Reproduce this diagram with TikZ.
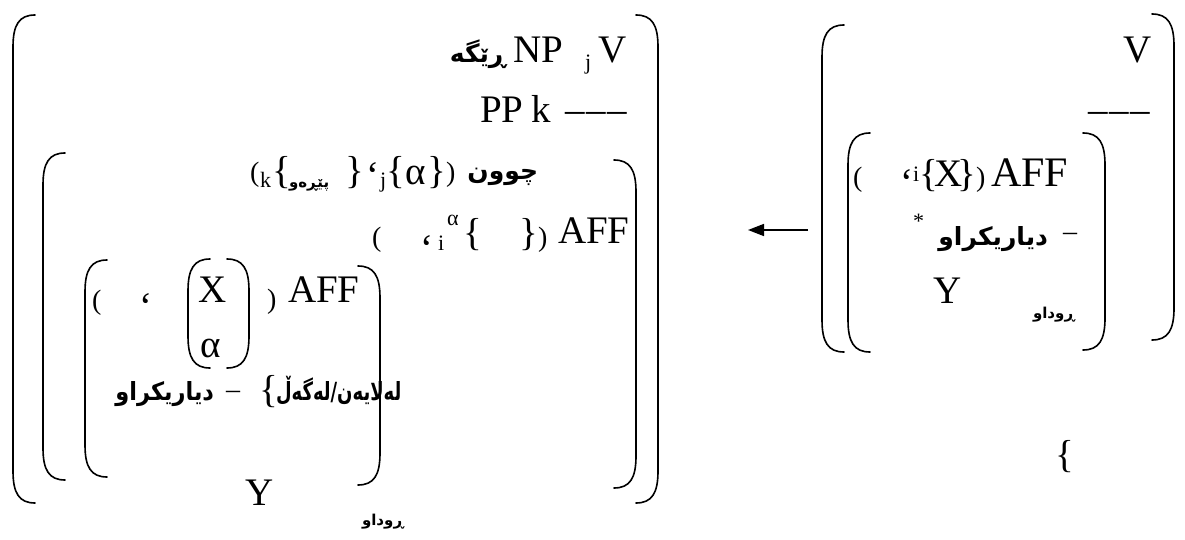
\documentclass[tikz,border=0pt]{standalone}
\usepackage{fontspec}
\setmainfont{Liberation Serif}
\newfontfamily\arabf[Script=Arabic]{DejaVu Sans}
\TeXXeTstate=1
\usetikzlibrary{arrows.meta}
\newcommand\Fbig{\fontsize{39}{40}\selectfont}
\newcommand\Fmid{\fontsize{28}{30}\selectfont}
\newcommand\Fsm{\fontsize{22}{24}\selectfont}
\newcommand\Far{\arabf\bfseries\fontsize{25}{28}\selectfont}
\newcommand\Farsm{\arabf\bfseries\fontsize{15}{16}\selectfont}
\newcommand\AR[1]{\beginR #1\endR}
\newcommand\Dashes{–\kern2pt–\kern2pt–}
\tikzset{
  t/.style={anchor=base west, inner sep=0pt, outer sep=0pt},
  te/.style={anchor=base east, inner sep=0pt, outer sep=0pt},
  brk/.style={line width=1.6pt, line cap=round},
  arr/.style={line width=1.6pt, -{Triangle[length=16pt,width=12pt]}}
}
% left bracket: x, top, bottom
\newcommand\mylb[3]{\draw[brk] (#1+22,#2) .. controls (#1+6,#2) and (#1,#2+10) .. (#1,#2+32) -- (#1,#3-32) .. controls (#1,#3-10) and (#1+6,#3) .. (#1+22,#3);}
% right bracket: x, top, bottom
\newcommand\myrb[3]{\draw[brk] (#1-22,#2) .. controls (#1-6,#2) and (#1,#2+10) .. (#1,#2+32) -- (#1,#3-32) .. controls (#1,#3-10) and (#1-6,#3) .. (#1-22,#3);}
\begin{document}
\begin{tikzpicture}[x=1pt,y=-1pt]
\fill[white] (0,0) rectangle (1185,540);
\useasboundingbox (0,0) rectangle (1185,540);
% ===== left structure brackets =====
\mylb{13}{15}{503}  \myrb{658}{15}{503}
\mylb{43}{153}{480} \myrb{636}{160}{488}
\mylb{85}{260}{477} \myrb{380}{266}{485}
\mylb{188}{259}{368} \myrb{249}{259}{368}
% ===== right structure brackets =====
\mylb{822}{25}{352} \myrb{1174}{14}{340}
\mylb{848}{133}{352} \myrb{1105}{133}{350}
% ===== left texts =====
\node[te] (w1) at (506,63) {\Far\AR{ڕێگە}};
\node[t] (np) at (513,63) {\Fbig NP};
\node[t] (j1) at (585,70) {\Fsm j};
\node[t] (v1) at (598,63) {\Fbig V};
\node[t] (pp) at (480,123) {\Fbig PP};
\node[t] (k1) at (531,123) {\Fbig k};
\node[t] (d1) at (565,123) {\Fbig\Dashes};
% row choon
\node[t] (p1) at (250,182) {\Fmid (};
\node[t] (k2) at (260,187) {\Fsm k};
\node[t] (b1) at (272,183) {\Fbig \{};
\node[t] (w2) at (289,188) {\Farsm\AR{پێڕەو}};
\node[t] (b2) at (345,183) {\Fbig \}};
\node[t] (c1) at (366,189) {\Fbig ‘};
\node[t] (j2) at (380,187) {\Fsm j};
\node[t] (b3) at (386,183) {\Fbig \{};
\node[t] (a1) at (405,185) {\Fbig α};
\node[t] (b4) at (427,183) {\Fbig \}};
\node[t] (p2) at (446,182) {\Fmid )};
\node[te] (w3) at (538,180) {\Far\AR{چوون}};
% row AFF 1
\node[t] (p3) at (372,246) {\Fmid (};
\node[t] (c2) at (420,261) {\Fbig ‘};
\node[t] (i1) at (438,250) {\Fsm i};
\node[t] (a2) at (447,225) {\Fsm α};
\node[t] (b5) at (463,245) {\Fbig \{};
\node[t] (b6) at (519,245) {\Fbig \}};
\node[t] (p4) at (538,246) {\Fmid )};
\node[t] (aff1) at (558,243) {\Fbig AFF};
% inner row
\node[t] (p5) at (92,309) {\Fmid (};
\node[t] (c3) at (139,319) {\Fbig ‘};
\node[t] (x1) at (198,302) {\Fbig X};
\node[t] (p6) at (267,308) {\Fmid )};
\node[t] (aff2) at (288,302) {\Fbig AFF};
\node[t] (a3) at (200,357) {\Fbig α};
% row 6
\node[te] (w4) at (214,400) {\Far\scalebox{0.9}[1]{\AR{دیاریکراو}}};
\node[t] (m1) at (226,398) {\Fmid –};
\node[t] (b7) at (259,402) {\Fbig \{};
\node[t] (w5) at (276,400) {\Far\scalebox{0.72}[1]{\AR{لەگەڵ}/\AR{لەلایەن}}};
\node[t] (y1) at (245,505) {\Fbig Y};
\node[t] (w6) at (362,525) {\Farsm\AR{ڕوداو}};
% ===== right texts =====
\node[t] (v2) at (1123,63) {\Fbig V};
\node[t] (d2) at (1088,123) {\Fbig\Dashes};
\node[t] (p7) at (853,186) {\Fmid (};
\node[t] (c4) at (900,196) {\Fbig ‘};
\node[t] (i2) at (913,182) {\Fsm i};
\node[t] (b8) at (919,186) {\Fbig \{};
\node[t] (x2) at (934,186) {\Fbig X};
\node[t] (b9) at (957,186) {\Fbig \}};
\node[t] (p8) at (976,186) {\Fmid )};
\node[t] (aff3) at (991,186) {\fontsize{42}{44}\selectfont AFF};
\node[t] (s1) at (913,228) {\Fsm *};
\node[te] (w7) at (1048,245) {\Far\AR{دیاریکراو}};
\node[t] (m2) at (1063,240) {\Fmid –};
\node[t] (y2) at (933,303) {\Fbig Y};
\node[t] (w8) at (1033,318) {\Farsm\AR{ڕوداو}};
\node[t] (b10) at (1055,467) {\Fbig \{};
% arrow
\coordinate (as) at (808,230);
\coordinate (ae) at (748,230);
\draw[arr] (as) -- (ae);
\end{tikzpicture}
\end{document}
